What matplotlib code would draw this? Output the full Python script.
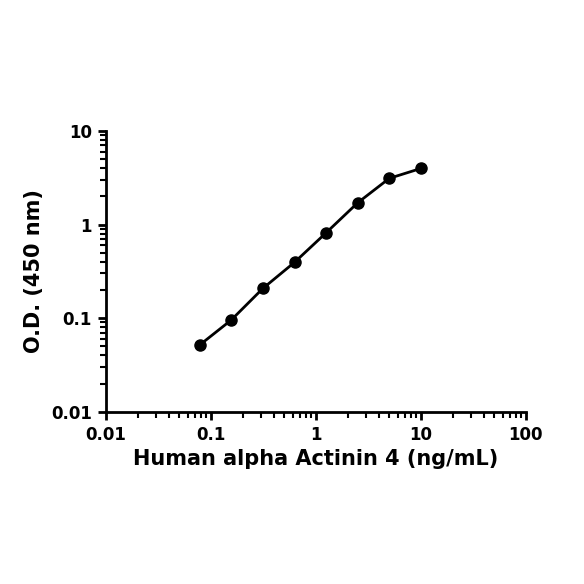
import matplotlib
matplotlib.use('Agg')
import matplotlib.pyplot as plt
from matplotlib.ticker import LogLocator, FixedLocator, FixedFormatter

# standard curve
conc = [0.078, 0.156, 0.3125, 0.625, 1.25, 2.5, 5, 10]
od = [0.0516, 0.0955, 0.208, 0.395, 0.817, 1.71, 3.12, 3.98]

xticks = [0.01, 0.1, 1, 10, 100]
xticklabels = ['0.01', '0.1', '1', '10', '100']
yticks = [0.01, 0.1, 1, 10]
yticklabels = ['0.01', '0.1', '1', '10']

plt.rcParams['font.family'] = ['DejaVu Sans']

fig = plt.figure(figsize=(5.84, 5.84), dpi=100)
ax = fig.add_axes([0.1815, 0.295, 0.719, 0.4807])

ax.plot(conc, od, color='black', lw=2, marker='o', ms=8, mfc='black', mec='black')

ax.set_xscale('log')
ax.set_yscale('log')
ax.set_xlim(0.01, 100)
ax.set_ylim(0.01, 10)

ax.xaxis.set_major_locator(FixedLocator(xticks))
ax.xaxis.set_major_formatter(FixedFormatter(xticklabels))
ax.yaxis.set_major_locator(FixedLocator(yticks))
ax.yaxis.set_major_formatter(FixedFormatter(yticklabels))
ax.xaxis.set_minor_locator(LogLocator(base=10, subs=range(2, 10), numticks=20))
ax.yaxis.set_minor_locator(LogLocator(base=10, subs=range(2, 10), numticks=20))
ax.xaxis.set_minor_formatter(plt.NullFormatter())
ax.yaxis.set_minor_formatter(plt.NullFormatter())

for s in ['top', 'right']:
    ax.spines[s].set_visible(False)
for s in ['left', 'bottom']:
    ax.spines[s].set_linewidth(2)

ax.tick_params(which='major', length=6, width=2, direction='out', labelsize=12, pad=4)
ax.tick_params(which='minor', length=4, width=1.5, direction='out')
for lab in ax.get_xticklabels() + ax.get_yticklabels():
    lab.set_fontweight('bold')

ax.set_xlabel('Human alpha Actinin 4 (ng/mL)', fontsize=15, fontweight='bold', labelpad=4)
ax.set_ylabel('O.D. (450 nm)', fontsize=15, fontweight='bold', labelpad=5)

fig.savefig('out.png', dpi=100, facecolor='white')
